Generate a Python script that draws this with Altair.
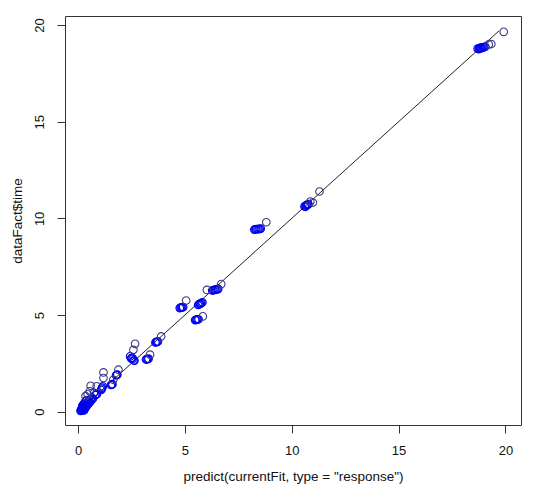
import altair as alt
import pandas as pd

# Blue points (dense overlapping clusters)
blue_x = [18.70, 18.75, 18.78, 18.82, 18.85, 18.88, 18.92, 18.96, 19.00, 19.06,
          10.60, 10.64, 10.66, 10.70, 10.72, 10.76, 10.78,
          8.25, 8.30, 8.34, 8.40, 8.45, 8.50, 8.55,
          6.28, 6.33, 6.38, 6.42, 6.47, 6.52, 6.56,
          5.62, 5.66, 5.70, 5.74, 5.78, 5.82,
          5.48, 5.52, 5.56, 5.60, 5.64,
          4.76, 4.80, 4.84, 4.88, 4.92,
          3.62, 3.66, 3.70, 3.74,
          3.18, 3.22, 3.26, 3.30,
          2.44, 2.48, 2.52, 2.56, 2.60, 2.64,
          1.78, 1.81, 1.84,
          1.54, 1.58, 1.61,
          1.08, 1.11, 1.13, 1.16,
          0.75, 0.80, 0.84, 0.88,
          0.12, 0.15, 0.18, 0.20, 0.22, 0.25, 0.27, 0.30, 0.32, 0.35, 0.38, 0.40,
          0.42, 0.45, 0.48, 0.50, 0.55, 0.58, 0.62, 0.65, 0.70, 0.20, 0.25, 0.30,
          0.35, 0.40, 0.28, 0.22, 0.17, 0.14, 0.33, 0.52]
blue_y = [18.78, 18.76, 18.80, 18.82, 18.83, 18.80, 18.85, 18.84, 18.86, 18.88,
          10.62, 10.60, 10.66, 10.68, 10.70, 10.72, 10.74,
          9.42, 9.43, 9.44, 9.45, 9.44, 9.46, 9.47,
          6.27, 6.28, 6.30, 6.31, 6.32, 6.33, 6.35,
          5.52, 5.55, 5.58, 5.60, 5.62, 5.66,
          4.74, 4.75, 4.76, 4.77, 4.78,
          5.36, 5.38, 5.39, 5.40, 5.41,
          3.58, 3.60, 3.62, 3.63,
          2.70, 2.71, 2.72, 2.74,
          2.86, 2.76, 2.78, 2.74, 2.66, 2.64,
          1.88, 1.91, 1.92,
          1.38, 1.40, 1.42,
          1.12, 1.18, 1.24, 1.31,
          0.97, 0.86, 0.88, 0.90,
          0.04, 0.08, 0.05, 0.12, 0.18, 0.10, 0.22, 0.28, 0.15, 0.35, 0.25, 0.42,
          0.32, 0.48, 0.40, 0.55, 0.50, 0.62, 0.58, 0.70, 0.68, 0.30, 0.38, 0.45,
          0.55, 0.60, 0.06, 0.25, 0.15, 0.10, 0.20, 0.45]

# Darker, isolated open circles
dark_x = [19.22, 19.34, 19.92, 10.87, 10.99, 11.30, 8.81, 6.03, 6.70, 5.84,
          5.06, 3.89, 3.37, 2.67, 2.59, 1.89, 1.65, 1.19, 1.19, 0.59, 0.87,
          0.45, 0.35, 0.55]
dark_y = [19.00, 19.02, 19.65, 10.87, 10.82, 11.39, 9.80, 6.30, 6.60, 4.93,
          5.75, 3.89, 2.95, 3.51, 3.20, 2.17, 1.65, 2.03, 1.74, 1.34, 1.31,
          0.90, 0.80, 1.05]

line_x = [0.1, 19.7]
line_y = [0.1, 19.7]

tick_vals = [0, 5, 10, 15, 20]

pts = pd.DataFrame({
    "x": blue_x + dark_x,
    "y": blue_y + dark_y,
    "grp": ["blue"] * len(blue_x) + ["dark"] * len(dark_x),
})
ln = pd.DataFrame({"x": line_x, "y": line_y})

font = "Liberation Sans"

xscale = alt.Scale(domain=[-0.61, 20.73], nice=False, zero=False)
yscale = alt.Scale(domain=[-0.69, 20.47], nice=False, zero=False)

xaxis = alt.Axis(values=tick_vals, title='predict(currentFit, type = "response")',
                 domain=False, grid=False, tickSize=8, tickColor="#333",
                 labelPadding=11, labelFontSize=13, labelFont=font, labelColor="#111",
                 titleFont=font, titleFontSize=13.5, titleFontWeight="normal",
                 titleColor="#111", titlePadding=12)
yaxis = alt.Axis(values=tick_vals, title="dataFact$time",
                 domain=False, grid=False, tickSize=8, tickColor="#333",
                 labelAngle=270, labelAlign="center", labelBaseline="bottom",
                 labelPadding=11, labelFontSize=13, labelFont=font, labelColor="#111",
                 titleFont=font, titleFontSize=13.5, titleFontWeight="normal",
                 titleColor="#111", titlePadding=9)

points = alt.Chart(pts).mark_point(shape="circle", filled=False, size=58,
                                   strokeWidth=1.1, opacity=1).encode(
    x=alt.X("x:Q", scale=xscale, axis=xaxis),
    y=alt.Y("y:Q", scale=yscale, axis=yaxis),
    color=alt.Color("grp:N", scale=alt.Scale(domain=["blue", "dark"],
                                             range=["#0000f0", "#3d3d80"]),
                    legend=None),
)

line = alt.Chart(ln).mark_line(color="#222", strokeWidth=1).encode(
    x=alt.X("x:Q", scale=xscale),
    y=alt.Y("y:Q", scale=yscale),
)

chart = alt.layer(line, points).properties(
    width=456, height=409,
    autosize=alt.AutoSizeParams(type="none"),
    padding={"left": 57, "top": 8, "right": 11, "bottom": 64},
    background="white",
).configure_view(stroke="#333", strokeWidth=1)

chart.save("out.html", embed_options={"renderer": "svg", "actions": False})
